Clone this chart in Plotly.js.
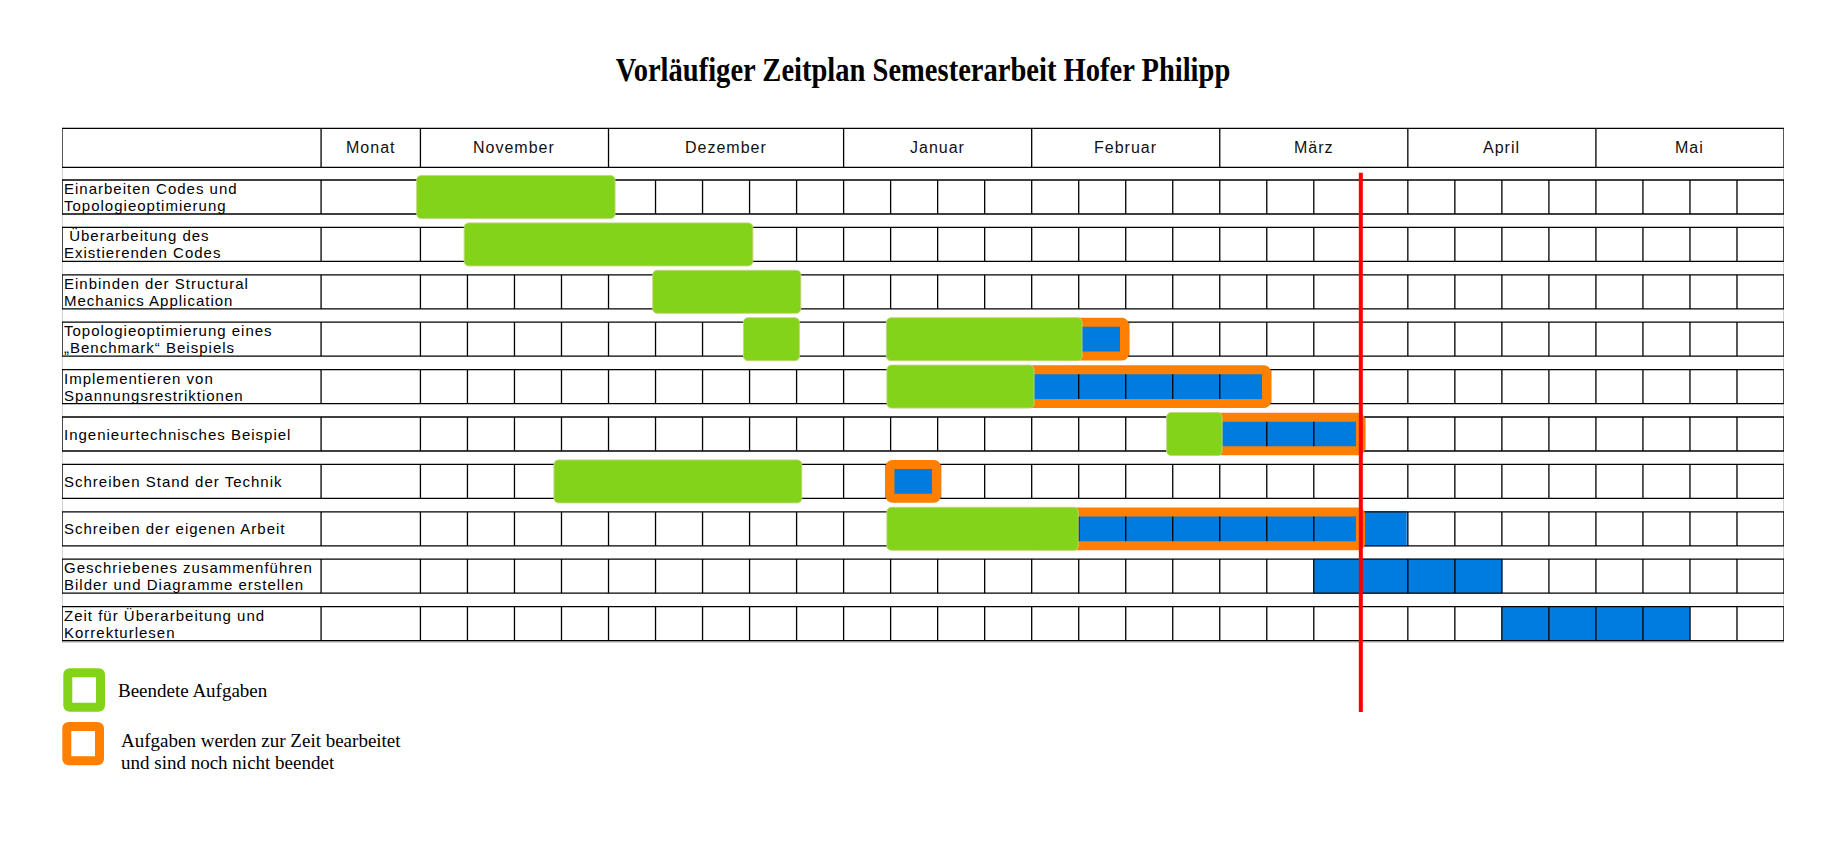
<!DOCTYPE html>
<html><head><meta charset="utf-8">
<script src="https://cdn.plot.ly/plotly-3.0.1.min.js"></script>
<style>
html,body{margin:0;padding:0;background:#fff;}
#chart{width:1825px;height:842px;}
text.annotation-text[style*="Liberation Sans"]{letter-spacing:1px;}
.gtitle{transform-box:fill-box;transform-origin:center;transform:scaleX(0.84);}
</style></head><body><div id="chart"></div>
<script>
// ---------------- data ----------------
const chartTitle = 'Vorläufiger Zeitplan Semesterarbeit Hofer Philipp';
const headerLabel = 'Monat';
const months = ['November','Dezember','Januar','Februar','März','April','Mai'];
const weeksPerMonth = [4,5,4,4,4,4,4];
const taskLabels = [
  ['Einarbeiten Codes und','Topologieoptimierung'],
  [' Überarbeitung des','Existierenden Codes'],
  ['Einbinden der Structural','Mechanics Application'],
  ['Topologieoptimierung eines','„Benchmark“ Beispiels'],
  ['Implementieren von','Spannungsrestriktionen'],
  ['Ingenieurtechnisches Beispiel'],
  ['Schreiben Stand der Technik'],
  ['Schreiben der eigenen Arbeit'],
  ['Geschriebenes zusammenführen','Bilder und Diagramme erstellen'],
  ['Zeit für Überarbeitung und','Korrekturlesen']
];
// finished work (green), in weeks from start of November
const greenRow   = [1, 2, 3, 4, 4, 5, 6, 7, 8];
const greenStart = [-0.08, 0.93, 4.94, 6.87, 9.91, 9.92, 15.87, 2.84, 9.92];
const greenEnd   = [4.14, 7.07, 8.09, 8.06, 14.07, 13.05, 17.05, 8.11, 13.99];
// work in progress (orange frame)
const orangeRow   = [4, 5, 6, 7, 8];
const orangeStart = [13.5, 12.0, 16.5, 9.89, 13.0];
const orangeEnd   = [15.07, 18.09, 20.09, 11.07, 20.09];
// planned work (blue)
const blueRow   = [4, 5, 6, 7, 8, 9, 10];
const blueStart = [13.5, 12.0, 16.5, 9.89, 13.0, 19.0, 23.0];
const blueEnd   = [15.07, 18.09, 20.09, 11.07, 20.98, 23.0, 27.0];
// current date marker
const todayWeek = 20.0;
const legendLabels = [['Beendete Aufgaben'], ['Aufgaben werden zur Zeit bearbeitet','und sind noch nicht beendet']];

// ---------------- colours ----------------
const GREEN = '#83d31b', ORANGE = '#ff8000', BLUE = '#007be0', RED = '#ff0000';

// ---------------- geometry ----------------
const W = 1825, H = 842, ML = 62, MR = 41;
const totalWeeks = weeksPerMonth.reduce((a,b)=>a+b,0);
const monatColW = 2.113, labelColW = 5.51;
const tableLeft = -(labelColW + monatColW);
const labelRight = -monatColW;
const pxPerWeek = (W - ML - MR) / (totalWeeks - tableLeft);
const pxPerRow = 47.4;
const yTop = 1 - 197 / pxPerRow;
const yBottom = yTop + H / pxPerRow;
const X = px => tableLeft + (px - ML) / pxPerWeek;
const Y = py => yTop + py / pxPerRow;
const rowHalf = 0.359, barHalf = 0.454, orangeHalf = 0.45;
const headerY = -0.038, headerHalf = 0.411;
const STROKE = 9;
const insX = (STROKE/2) / pxPerWeek, insY = (STROKE/2) / pxPerRow;
const nRows = taskLabels.length;

function rrect(x0,x1,y0,y1,rx,ry){
  return `M${x0+rx},${y0} L${x1-rx},${y0} Q${x1},${y0} ${x1},${y0+ry} L${x1},${y1-ry} Q${x1},${y1} ${x1-rx},${y1} L${x0+rx},${y1} Q${x0},${y1} ${x0},${y1-ry} L${x0},${y0+ry} Q${x0},${y0} ${x0+rx},${y0} Z`;
}

// month boundaries
const monthStart = [];
let acc = 0;
weeksPerMonth.forEach(w => { monthStart.push(acc); acc += w; });

const shapes = [];
// faint sheet border
const yb = nRows + rowHalf + 1.5/pxPerRow;
shapes.push({type:'path', layer:'below', xref:'x', yref:'y',
  path:`M${tableLeft},${headerY+headerHalf} V${yb} H${totalWeeks} V${headerY+headerHalf}`,
  line:{color:'#c4c4c4', width:1.5}});
// blue planned blocks
blueRow.forEach((r,i) => {
  shapes.push({type:'rect', layer:'below', xref:'x', yref:'y',
    x0: blueStart[i], x1: blueEnd[i], y0: r - rowHalf, y1: r + rowHalf,
    fillcolor: BLUE, line:{color:'#5fa6ea', width:1}});
});
// header grid
{
  const y0 = headerY - headerHalf, y1 = headerY + headerHalf;
  let p = `M${tableLeft},${y0} H${totalWeeks} V${y1} H${tableLeft} Z`;
  [labelRight, 0].concat(monthStart.slice(1)).forEach(x => { p += ` M${x},${y0} V${y1}`; });
  shapes.push({type:'path', layer:'below', xref:'x', yref:'y', path:p, line:{color:'#000', width:1.3}});
}
// task rows grid
{
  let p = '';
  for (let r = 1; r <= nRows; r++) {
    const y0 = r - rowHalf, y1 = r + rowHalf;
    p += ` M${tableLeft},${y0} H${totalWeeks} V${y1} H${tableLeft} Z M${labelRight},${y0} V${y1}`;
    for (let w = 0; w < totalWeeks; w++) p += ` M${w},${y0} V${y1}`;
  }
  shapes.push({type:'path', layer:'below', xref:'x', yref:'y', path:p.trim(), line:{color:'#000', width:1.3}});
}
// today line
shapes.push({type:'line', layer:'above', xref:'x', yref:'y', x0: todayWeek, x1: todayWeek,
  y0: Y(172.7), y1: Y(712), line:{color:RED, width:4}});
// legend boxes
const legendBoxes = [
  {color: GREEN, x0: 63.3, x1: 105, y0: 668.3, y1: 711.7},
  {color: ORANGE, x0: 62.3, x1: 104, y0: 722, y1: 765.3}
];
legendBoxes.forEach(b => {
  const h = STROKE/2;
  shapes.push({type:'path', layer:'above', xref:'x', yref:'y',
    path: rrect(X(b.x0+h), X(b.x1-h), Y(b.y0+h), Y(b.y1-h), 2/pxPerWeek, 2/pxPerRow),
    line:{color:b.color, width:STROKE}, fillcolor:'rgba(0,0,0,0)'});
});

// ---------------- traces ----------------
const orangeTrace = {
  type:'bar', orientation:'h', name:'Aufgaben in Bearbeitung',
  y: orangeRow,
  base: orangeStart.map(s => s + insX),
  x: orangeStart.map((s,i) => (orangeEnd[i] - insX) - (s + insX)),
  width: 2*(orangeHalf - insY),
  marker:{color:'rgba(0,0,0,0)', line:{color:ORANGE, width:STROKE}, cornerradius:3},
  hoverinfo:'skip', showlegend:false
};
const greenTrace = {
  type:'bar', orientation:'h', name:'Beendete Aufgaben',
  y: greenRow, base: greenStart,
  x: greenStart.map((s,i) => greenEnd[i] - s),
  width: 2*barHalf,
  marker:{color:GREEN, line:{color:'rgba(196,212,120,0.9)', width:1}, cornerradius:5},
  hoverinfo:'skip', showlegend:false
};

// ---------------- annotations ----------------
const annotations = [];
const sans = {family:'Liberation Sans, Arial, sans-serif', size:16, color:'#111'};
annotations.push({x:(labelRight+0)/2, y:headerY, xref:'x', yref:'y', text:headerLabel,
  showarrow:false, xanchor:'center', yanchor:'middle', font:sans});
months.forEach((m,i) => annotations.push({x: monthStart[i] + weeksPerMonth[i]/2, y:headerY,
  xref:'x', yref:'y', text:m, showarrow:false, xanchor:'center', yanchor:'middle', font:sans}));
taskLabels.forEach((lines, i) => {
  const r = i + 1;
  const offs = lines.length === 1 ? [0] : [-0.18, 0.18];
  lines.forEach((t, j) => annotations.push({x: tableLeft, y: r + offs[j], xref:'x', yref:'y',
    text:t, showarrow:false, xanchor:'left', yanchor:'middle',
    font:{family:'Liberation Sans, Arial, sans-serif', size:15, color:'#000'}}));
});
const serif = {family:'Liberation Serif, Times New Roman, serif', size:19, color:'#000'};
const legendTextPos = [[{x:115.5, y:690}], [{x:119, y:740.7}, {x:119, y:762.3}]];
legendLabels.forEach((lines,i) => lines.forEach((t,j) => {
  const p = legendTextPos[i][j];
  annotations.push({x:X(p.x), y:Y(p.y), xref:'x', yref:'y', text:t, showarrow:false,
    xanchor:'left', yanchor:'middle', font:serif});
}));

const layout = {
  width: W, height: H,
  margin:{l:ML, r:MR, t:0, b:0, pad:0},
  paper_bgcolor:'#fff', plot_bgcolor:'#fff',
  title:{text:chartTitle, x:0.5, xref:'paper', xanchor:'center', y:1-69/H, yref:'container', yanchor:'middle',
    font:{family:'Liberation Serif, Times New Roman, serif', size:34, color:'#000', weight:'bold'}},
  xaxis:{range:[tableLeft, totalWeeks], visible:false, fixedrange:true, showgrid:false, zeroline:false},
  yaxis:{range:[yBottom, yTop], visible:false, fixedrange:true, showgrid:false, zeroline:false},
  barmode:'overlay', bargap:0,
  showlegend:false,
  shapes: shapes,
  annotations: annotations
};

Plotly.newPlot('chart', [orangeTrace, greenTrace], layout, {displayModeBar:false, staticPlot:true});
</script>
</body></html>
